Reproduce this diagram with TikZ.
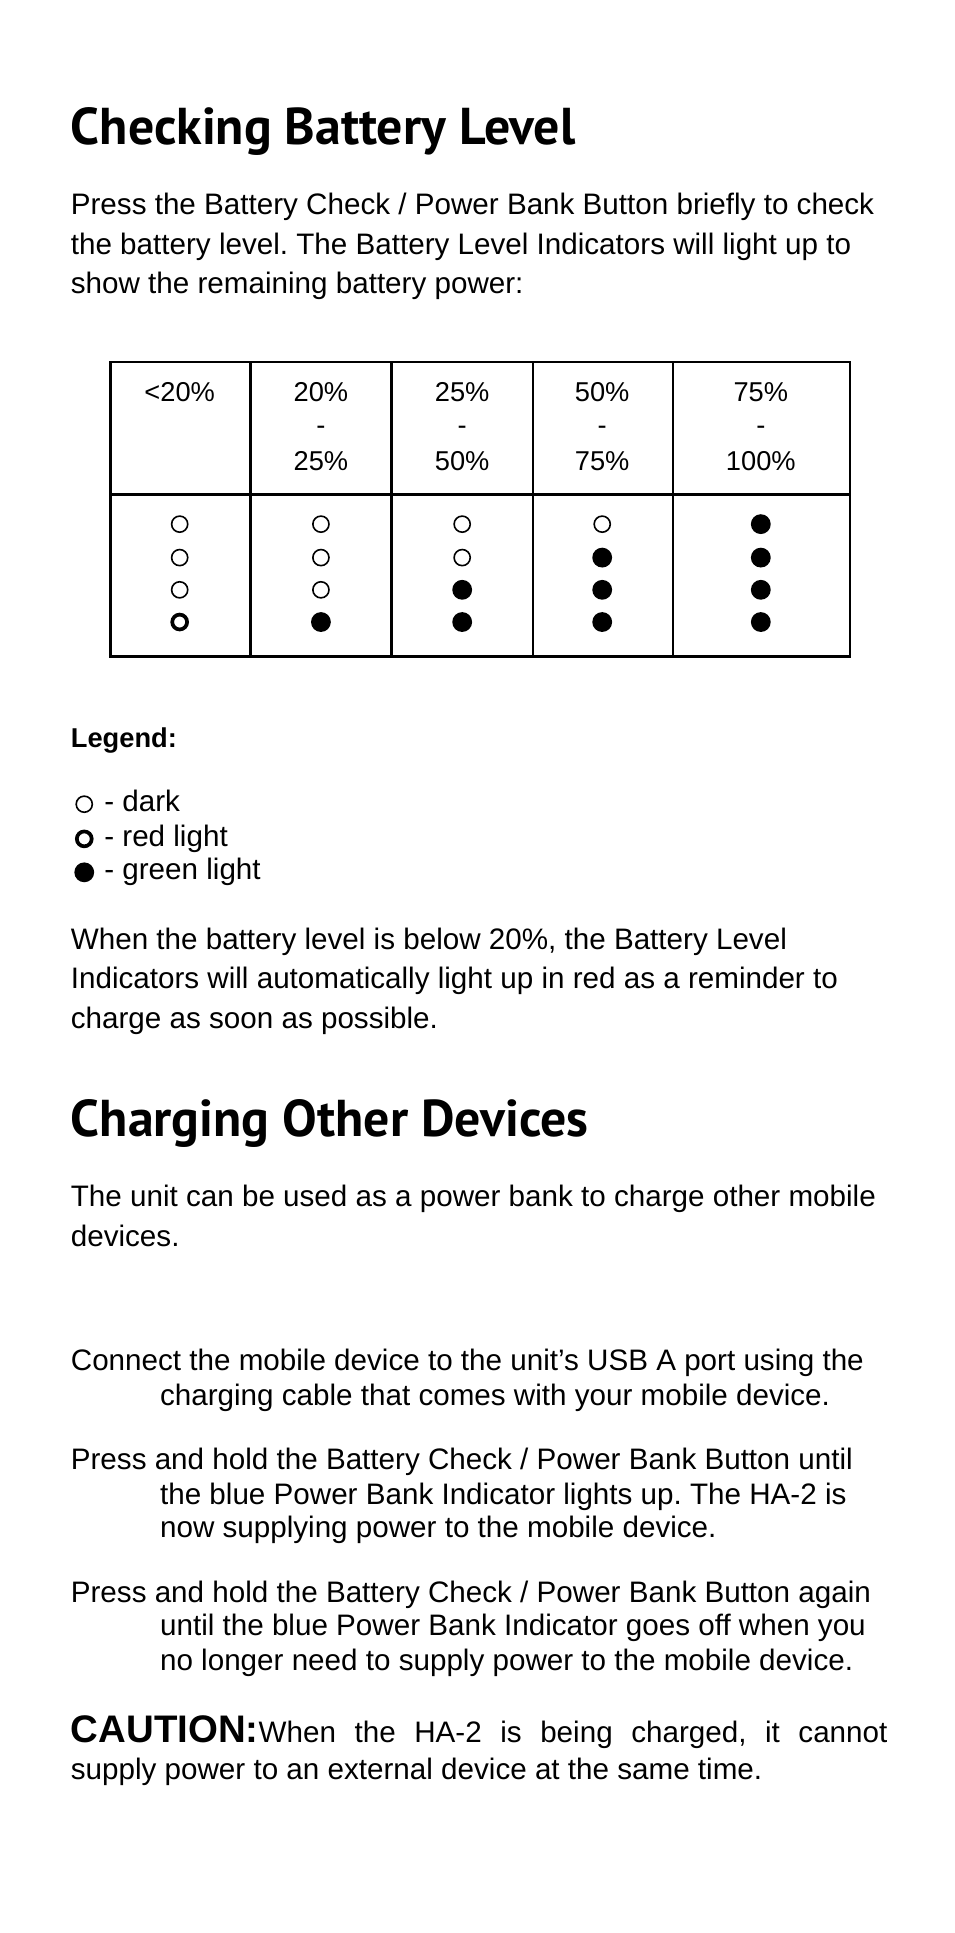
\documentclass[tikz,border=0pt]{standalone}
\usepackage{fontspec}
\setmainfont{Liberation Sans}
\newfontfamily\headfont{PT Sans}
\frenchspacing
\tikzstyle{body} = [anchor=base west, inner sep=0pt, font=\fontsize{23.9}{28}\selectfont]
\tikzstyle{head} = [anchor=base west, inner sep=0pt, font=\headfont\bfseries\fontsize{41.8}{44}\selectfont]
\tikzstyle{cell} = [anchor=base, inner sep=0pt, font=\fontsize{22}{28}\selectfont]
\tikzstyle{off} = [draw, line width=1.3pt]
\tikzstyle{green} = [fill=black]
\tikzstyle{red} = [draw, line width=3pt]
\begin{document}
\begin{tikzpicture}[x=1pt,y=-1pt]
\useasboundingbox (0,0) rectangle (770,1560);
\node[head] (h1) at (57,117) {Checking Battery Level};
\node[body] (p1a) at (57,173) {Press the Battery Check / Power Bank Button briefly to check};
\node[body] (p1b) at (57,205) {the battery level. The Battery Level Indicators will light up to};
\node[body] (p1c) at (57,237) {show the remaining battery power:};
% table
\draw[line width=2pt] (89,292) rectangle (686,530);
\draw[line width=2pt] (89,399) -- (686,399);
\foreach \x in {202,316,430,543} \draw[line width=2pt] (\x,292) -- (\x,530);
\node[cell] (c1) at (145,324) {<20\%};
\foreach \x/\a/\b [count=\i from 2] in {259/20/25,373/25/50,486/50/75,614/75/100}{
  \node[cell] (t\i) at (\x,324) {\a\%};
  \node[cell] (d\i) at (\x,351) {-};
  \node[cell] (b\i) at (\x,380) {\b\%};
}
% indicators
\foreach \y in {423,450,476} \draw[off] (145,\y) circle (6.5);
\draw[red] (145,502) circle (6);
\foreach \y in {423,450,476} \draw[off] (259,\y) circle (6.5);
\fill (259,502) circle (8);
\foreach \y in {423,450} \draw[off] (373,\y) circle (6.5);
\foreach \y in {476,502} \fill (373,\y) circle (8);
\draw[off] (486,423) circle (6.5);
\foreach \y in {450,476,502} \fill (486,\y) circle (8);
\foreach \y in {423,450,476,502} \fill (614,\y) circle (8);
% legend
\node[body, font=\bfseries\fontsize{22}{28}\selectfont] (leg) at (57,603) {Legend:};
\draw[off] (68,649) circle (6.5);
\node[body] (l1) at (84,655) {- dark};
\draw[red] (68,677) circle (6);
\node[body] (l2) at (84,683) {- red light};
\fill (68,704) circle (8);
\node[body] (l3) at (84,710) {- green light};
\node[body] (p2a) at (57,766) {When the battery level is below 20\%, the Battery Level};
\node[body] (p2b) at (57,798) {Indicators will automatically light up in red as a reminder to};
\node[body] (p2c) at (57,830) {charge as soon as possible.};
\node[head] (h2) at (57,917) {Charging Other Devices};
\node[body] (p3a) at (57,974) {The unit can be used as a power bank to charge other mobile};
\node[body] (p3b) at (57,1006) {devices.};
\node[body] (s1a) at (57,1106) {Connect the mobile device to the unit’s USB A port using the};
\node[body] (s1b) at (129,1134) {charging cable that comes with your mobile device.};
\node[body] (s2a) at (57,1186) {Press and hold the Battery Check / Power Bank Button until};
\node[body] (s2b) at (129,1214) {the blue Power Bank Indicator lights up. The HA-2 is};
\node[body] (s2c) at (129,1241) {now supplying power to the mobile device.};
\node[body] (s3a) at (57,1293) {Press and hold the Battery Check / Power Bank Button again};
\node[body] (s3b) at (129,1320) {until the blue Power Bank Indicator goes off when you};
\node[body] (s3c) at (129,1348) {no longer need to supply power to the mobile device.};
\node[body] (cau) at (57,1406) {\hbox to 659pt{{\bfseries\fontsize{31}{32}\selectfont CAUTION:}When\hfill the\hfill HA-2\hfill is\hfill being\hfill charged,\hfill it\hfill cannot}};
\node[body] (cau2) at (57,1436) {supply power to an external device at the same time.};
\end{tikzpicture}
\end{document}
